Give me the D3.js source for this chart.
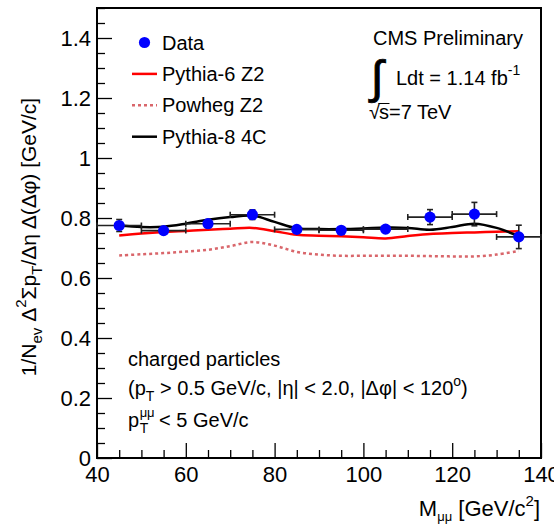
<!DOCTYPE html>
<html>
<head>
<meta charset="utf-8">
<script src="https://cdn.jsdelivr.net/npm/d3@7"></script>
<style>
  html, body { margin: 0; padding: 0; background: #fff; }
  svg text { font-family: "Liberation Sans", Arial, Helvetica, sans-serif; fill: #000; }
</style>
</head>
<body>
<svg id="chart" width="554" height="526"></svg>
<script>
// Measured points: dimuon mass bins (GeV/c^2), bin half width 5
const massBins = [45, 55, 65, 75, 85, 95, 105, 115, 125, 135];
const dataValues = [0.775, 0.758, 0.781, 0.811, 0.762, 0.759, 0.763, 0.803, 0.813, 0.737];
const dataErrors = [0.020, 0.012, 0.010, 0.016, 0.010, 0.010, 0.010, 0.025, 0.039, 0.039];
const binHalfWidth = 5;

// Model predictions sampled every 5 GeV/c^2
const curveMass = [45, 50, 55, 60, 65, 70, 75, 80, 85, 90, 95, 100, 105, 110, 115, 120, 125, 130, 135];
const pythia6Z2 = [0.742, 0.748, 0.753, 0.757, 0.761, 0.764, 0.767, 0.756, 0.744, 0.741, 0.739, 0.736, 0.732, 0.740, 0.747, 0.750, 0.752, 0.754, 0.756];
const powhegZ2  = [0.675, 0.679, 0.683, 0.688, 0.694, 0.706, 0.720, 0.708, 0.687, 0.678, 0.674, 0.674, 0.674, 0.674, 0.673, 0.672, 0.672, 0.678, 0.690];
const pythia8C4 = [0.775, 0.770, 0.771, 0.781, 0.794, 0.803, 0.808, 0.787, 0.766, 0.763, 0.763, 0.765, 0.768, 0.767, 0.761, 0.770, 0.781, 0.767, 0.739];

// Axis ticks
const xMajorTicks = [40, 60, 80, 100, 120, 140];
const yMajorTicks = [0, 0.2, 0.4, 0.6, 0.8, 1.0, 1.2, 1.4];
const xDomain = [40, 140];
const yDomain = [0, 1.5];

const legendEntries = [
  { label: "Data", kind: "marker" },
  { label: "Pythia-6 Z2", kind: "line", color: "#ff0000", dash: null },
  { label: "Powheg Z2", kind: "line", color: "#d9666b", dash: "3,3" },
  { label: "Pythia-8 4C", kind: "line", color: "#000000", dash: null }
];

const svg = d3.select("#chart");
const plot = { left: 97, right: 541, top: 8, bottom: 458 };

const x = d3.scaleLinear().domain(xDomain).range([plot.left, plot.right]);
const y = d3.scaleLinear().domain(yDomain).range([plot.bottom, plot.top]);

const fmt = d => String(+d.toFixed(1));

// Minor ticks
const xMinor = d3.range(40, 140.01, 5).filter(v => !xMajorTicks.includes(v));
const yMinor = d3.range(0, 1.5001, 0.05).map(v => +v.toFixed(2)).filter(v => !yMajorTicks.some(t => Math.abs(t - v) < 1e-6));

const gx = svg.append("g").attr("transform", `translate(0,${plot.bottom})`)
  .call(d3.axisBottom(x).tickValues(xMajorTicks).tickSizeInner(-15).tickSizeOuter(0).tickPadding(7).tickFormat(d3.format("d")));
const gxm = svg.append("g").attr("transform", `translate(0,${plot.bottom})`)
  .call(d3.axisBottom(x).tickValues(xMinor).tickSizeInner(-8).tickSizeOuter(0).tickFormat(""));
const gy = svg.append("g").attr("transform", `translate(${plot.left},0)`)
  .call(d3.axisLeft(y).tickValues(yMajorTicks).tickSizeInner(-15).tickSizeOuter(0).tickPadding(6).tickFormat(fmt));
const gym = svg.append("g").attr("transform", `translate(${plot.left},0)`)
  .call(d3.axisLeft(y).tickValues(yMinor).tickSizeInner(-8).tickSizeOuter(0).tickFormat(""));

[gx, gxm, gy, gym].forEach(g => {
  g.select(".domain").remove();
  g.selectAll("line").attr("stroke", "#000").attr("stroke-width", 1.3);
  g.selectAll("text").attr("font-size", 22).attr("font-family", "Liberation Sans, Arial, sans-serif");
});
gx.selectAll("text").attr("dy", "0.78em");
gy.selectAll("text").attr("dy", "0.36em");

// Frame
svg.append("rect")
  .attr("x", plot.left).attr("y", plot.top)
  .attr("width", plot.right - plot.left).attr("height", plot.bottom - plot.top)
  .attr("fill", "none").attr("stroke", "#000").attr("stroke-width", 2);

// Model curves
const line = d3.line().x(d => x(d[0])).y(d => y(d[1])).curve(d3.curveCatmullRom.alpha(0.5));
function drawCurve(values, color, dash) {
  svg.append("path")
    .datum(curveMass.map((m, i) => [m, values[i]]))
    .attr("d", line)
    .attr("fill", "none")
    .attr("stroke", color)
    .attr("stroke-width", 2.5)
    .attr("stroke-dasharray", dash);
}
drawCurve(powhegZ2, "#d9666b", "3,3");
drawCurve(pythia6Z2, "#ff0000", null);
drawCurve(pythia8C4, "#000000", null);

// Data: error bars then markers
const eb = svg.append("g").attr("stroke", "#222").attr("stroke-width", 1.6);
massBins.forEach((m, i) => {
  const v = dataValues[i], e = dataErrors[i];
  const x0 = x(m - binHalfWidth), x1 = x(m + binHalfWidth), xc = x(m);
  const yc = y(v), y0 = y(v - e), y1 = y(v + e);
  eb.append("line").attr("x1", x0).attr("x2", x1).attr("y1", yc).attr("y2", yc);
  eb.append("line").attr("x1", x0).attr("x2", x0).attr("y1", yc - 3).attr("y2", yc + 3);
  eb.append("line").attr("x1", x1).attr("x2", x1).attr("y1", yc - 3).attr("y2", yc + 3);
  eb.append("line").attr("x1", xc).attr("x2", xc).attr("y1", y0).attr("y2", y1);
  eb.append("line").attr("x1", xc - 3).attr("x2", xc + 3).attr("y1", y0).attr("y2", y0);
  eb.append("line").attr("x1", xc - 3).attr("x2", xc + 3).attr("y1", y1).attr("y2", y1);
});
svg.append("g").selectAll("circle")
  .data(massBins.map((m, i) => [m, dataValues[i]]))
  .join("circle")
  .attr("cx", d => x(d[0])).attr("cy", d => y(d[1]))
  .attr("r", 5.6).attr("fill", "#0000ff");

// Legend
const legend = svg.append("g");
legendEntries.forEach((entry, i) => {
  const cy = 42.5 + i * 31.4;
  if (entry.kind === "marker") {
    legend.append("circle").attr("cx", 144.5).attr("cy", cy).attr("r", 5.6).attr("fill", "#0000ff");
  } else {
    legend.append("line").attr("x1", 132).attr("x2", 157).attr("y1", cy).attr("y2", cy)
      .attr("stroke", entry.color).attr("stroke-width", 2.5).attr("stroke-dasharray", entry.dash);
  }
  legend.append("text").attr("x", 162).attr("y", cy).attr("dy", "0.35em")
    .attr("font-size", 20).text(entry.label);
});

// Experiment labels
svg.append("text").attr("x", 373).attr("y", 45).attr("font-size", 20).text("CMS Preliminary");
svg.append("text").attr("x", 371).attr("y", 93).attr("font-size", 46)
  .attr("font-family", "DejaVu Sans, sans-serif")
  .attr("stroke", "#000").attr("stroke-width", 0.9).text("∫");
const lumi = svg.append("text").attr("x", 396).attr("y", 85).attr("font-size", 20);
lumi.append("tspan").text("Ldt = 1.14 fb");
lumi.append("tspan").attr("font-size", 14).attr("dy", -10).text("-1");

// sqrt(s) with a bar over s
const rx = 369, ry = 119;
const rootSign = svg.append("text").attr("x", rx).attr("y", ry).attr("font-size", 20).text("√");
const rw = rootSign.node().getComputedTextLength();
const sChar = svg.append("text").attr("x", rx + rw - 1).attr("y", ry).attr("font-size", 20).text("s");
const sw = sChar.node().getComputedTextLength();
svg.append("line").attr("x1", rx + rw - 1.5).attr("x2", rx + rw + sw - 0.5)
  .attr("y1", ry - 15.5).attr("y2", ry - 15.5).attr("stroke", "#000").attr("stroke-width", 1);
svg.append("text").attr("x", rx + rw + sw - 1).attr("y", ry).attr("font-size", 20).text("=7 TeV");

// Selection labels
svg.append("text").attr("x", 128).attr("y", 366).attr("font-size", 20).text("charged particles");
const sel = svg.append("text").attr("x", 128).attr("y", 395).attr("font-size", 20);
sel.append("tspan").text("(p");
sel.append("tspan").attr("font-size", 14).attr("dy", 6).text("T");
sel.append("tspan").attr("dy", -6).text(" > 0.5 GeV/c, |η| < 2.0, |Δφ| < 120");
sel.append("tspan").attr("font-size", 14).attr("dy", -9).text("o");
sel.append("tspan").attr("dy", 9).text(")");

const ptx = 128, pty = 427;
const pT = svg.append("text").attr("x", ptx).attr("y", pty).attr("font-size", 20).text("p");
const pw = pT.node().getComputedTextLength();
svg.append("text").attr("x", ptx + pw + 0.5).attr("y", pty + 6).attr("font-size", 14).text("T");
const mm = svg.append("text").attr("x", ptx + pw + 0.5).attr("y", pty - 10).attr("font-size", 13).text("μμ");
const mmw = mm.node().getComputedTextLength();
svg.append("text").attr("x", ptx + pw + mmw + 5).attr("y", pty).attr("font-size", 20).text("< 5 GeV/c");

// Axis titles
const xt = svg.append("text").attr("x", 540).attr("y", 516).attr("text-anchor", "end").attr("font-size", 22);
xt.append("tspan").text("M");
xt.append("tspan").attr("font-size", 13).attr("dy", 5).text("μμ");
xt.append("tspan").attr("dy", -5).text(" [GeV/c");
xt.append("tspan").attr("font-size", 15).attr("dy", -10).text("2");
xt.append("tspan").attr("dy", 10).text("]");

const yt = svg.append("text")
  .attr("transform", "translate(36,237) rotate(-90)")
  .attr("text-anchor", "middle").attr("font-size", 21);
yt.append("tspan").text("1/N");
yt.append("tspan").attr("font-size", 15).attr("dy", 6).text("ev");
yt.append("tspan").attr("dy", -6).text(" Δ");
yt.append("tspan").attr("font-size", 15).attr("dy", -10).text("2");
yt.append("tspan").attr("dy", 10).text("Σp");
yt.append("tspan").attr("font-size", 15).attr("dy", 6).text("T");
yt.append("tspan").attr("dy", -6).text("/Δη Δ(Δφ) [GeV/c]");
</script>
</body>
</html>
